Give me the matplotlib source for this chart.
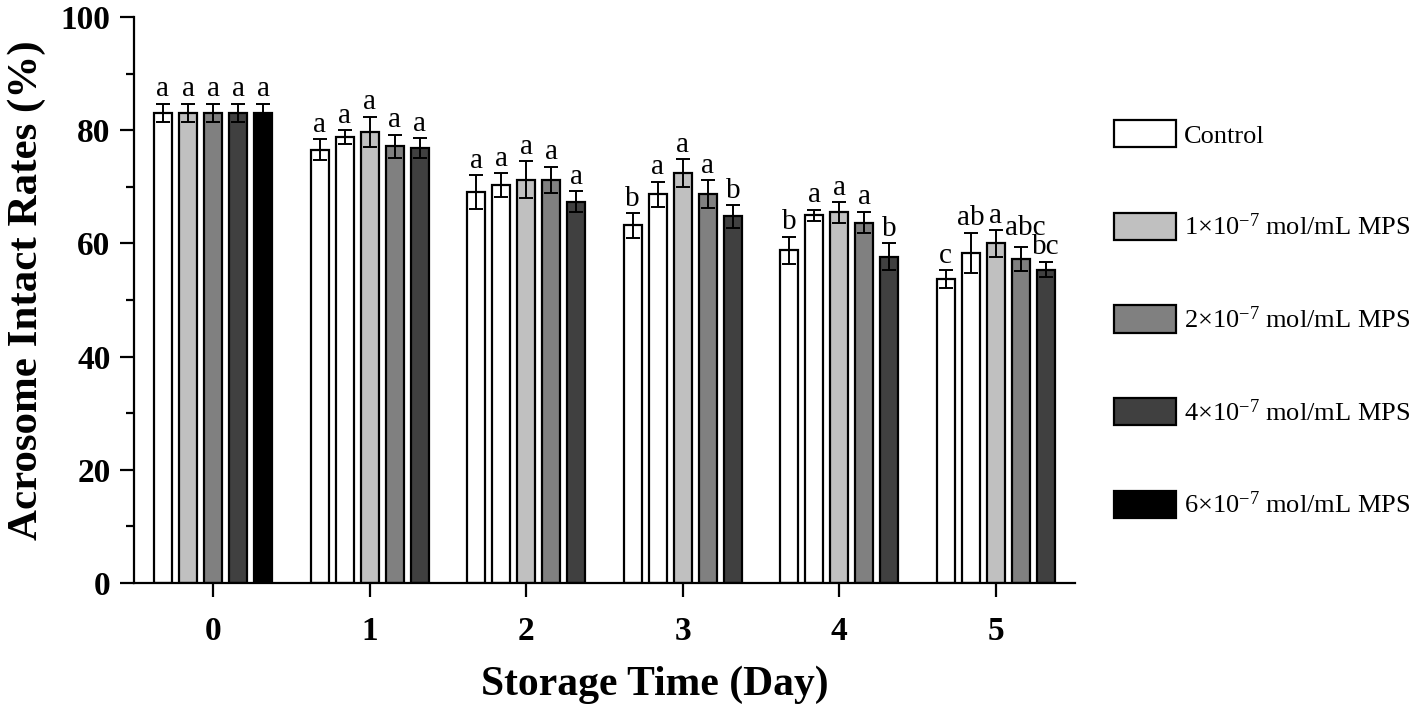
import matplotlib

matplotlib.use("Agg")

import matplotlib.pyplot as plt
import numpy as np
from matplotlib.patches import Patch

plt.rcParams["font.family"] = ["Liberation Serif", "DejaVu Serif"]
plt.rcParams["mathtext.fontset"] = "custom"
plt.rcParams["mathtext.rm"] = "Liberation Serif"
plt.rcParams["mathtext.it"] = "Liberation Serif:italic"
plt.rcParams["mathtext.bf"] = "Liberation Serif:bold"

days = ["0", "1", "2", "3", "4", "5"]
groups = [
    "Control",
    "1×10$^{-7}$ mol/mL MPS",
    "2×10$^{-7}$ mol/mL MPS",
    "4×10$^{-7}$ mol/mL MPS",
    "6×10$^{-7}$ mol/mL MPS",
]
# one row per day, one column per bar in the cluster
means = [
    [83.1, 83.1, 83.1, 83.1, 83.1],
    [76.6, 78.8, 79.7, 77.2, 76.9],
    [69.1, 70.3, 71.3, 71.3, 67.4],
    [63.2, 68.7, 72.4, 68.7, 64.8],
    [58.8, 65.0, 65.5, 63.7, 57.7],
    [53.7, 58.3, 60.0, 57.3, 55.4],
]
errors = [
    [1.6, 1.6, 1.6, 1.6, 1.6],
    [1.8, 1.2, 2.7, 2.0, 1.7],
    [3.0, 2.1, 3.2, 2.3, 1.8],
    [2.2, 2.2, 2.5, 2.5, 2.0],
    [2.4, 1.0, 1.8, 1.9, 2.4],
    [1.6, 3.6, 2.4, 2.1, 1.4],
]
letters = [
    ["a", "a", "a", "a", "a"],
    ["a", "a", "a", "a", "a"],
    ["a", "a", "a", "a", "a"],
    ["b", "a", "a", "a", "b"],
    ["b", "a", "a", "a", "b"],
    ["c", "ab", "a", "abc", "bc"],
]
legend_colors = ["#ffffff", "#c0c0c0", "#808080", "#404040", "#000000"]
# the source figure shifts the fills after day 0
day0_colors = ["#ffffff", "#c0c0c0", "#808080", "#404040", "#000000"]
later_colors = ["#ffffff", "#ffffff", "#c0c0c0", "#808080", "#404040"]

# the crowded day-5 labels are nudged in the original too
nudge = {(5, 3): (3, 4)}

fig = plt.figure(figsize=(14.18, 7.17), dpi=100)
ax = fig.add_axes([0.0945, 0.187, 0.6635, 0.789])

width = 0.115
step = 0.16
x = np.arange(len(days))
for d in range(len(days)):
    colors = day0_colors if d == 0 else later_colors
    for g in range(len(groups)):
        xi = x[d] + (g - 2) * step
        ax.bar(xi, means[d][g], width=width, color=colors[g],
               edgecolor="black", linewidth=1.6, zorder=2)
        ax.errorbar(xi, means[d][g], yerr=errors[d][g], fmt="none",
                    ecolor="black", elinewidth=1.4, capsize=4.8,
                    capthick=1.4, zorder=3)
        dx, dy = nudge.get((d, g), (0, 1))
        ax.annotate(letters[d][g], (xi, means[d][g] + errors[d][g]),
                    xytext=(dx, dy), textcoords="offset points",
                    ha="center", va="bottom", fontsize=21)

ax.set_xlim(-0.505, 5.505)
ax.set_ylim(0, 100)
ax.set_xticks(x)
ax.set_xticklabels(days)
ax.set_yticks(np.arange(0, 101, 20))
ax.set_yticks(np.arange(10, 100, 20), minor=True)
for s in ["top", "right"]:
    ax.spines[s].set_visible(False)
for s in ["left", "bottom"]:
    ax.spines[s].set_linewidth(1.6)
ax.tick_params(axis="both", which="major", direction="out", length=10,
               width=1.6, labelsize=24)
ax.tick_params(axis="x", which="major", pad=14)
ax.tick_params(axis="y", which="major", pad=7)
ax.tick_params(axis="y", which="minor", direction="out", length=6, width=1.6)
for lab in ax.get_xticklabels() + ax.get_yticklabels():
    lab.set_fontweight("bold")

ax.set_xlabel("Storage Time (Day)", fontsize=30, fontweight="bold")
ax.xaxis.set_label_coords(0.554, -0.146)
ax.set_ylabel("Acrosome Intact Rates (%)", fontsize=31, fontweight="bold")
ax.yaxis.set_label_coords(-0.094, 0.518)

handles = [Patch(facecolor=c, edgecolor="black", linewidth=1.6) for c in legend_colors]
fig.legend(handles, groups, loc="upper left", bbox_to_anchor=(0.778, 0.847),
           frameon=False, fontsize=19, handlelength=2.35, handleheight=1.2,
           handletextpad=0.3, labelspacing=2.47, borderaxespad=0)

fig.savefig("out.png", dpi=100)
